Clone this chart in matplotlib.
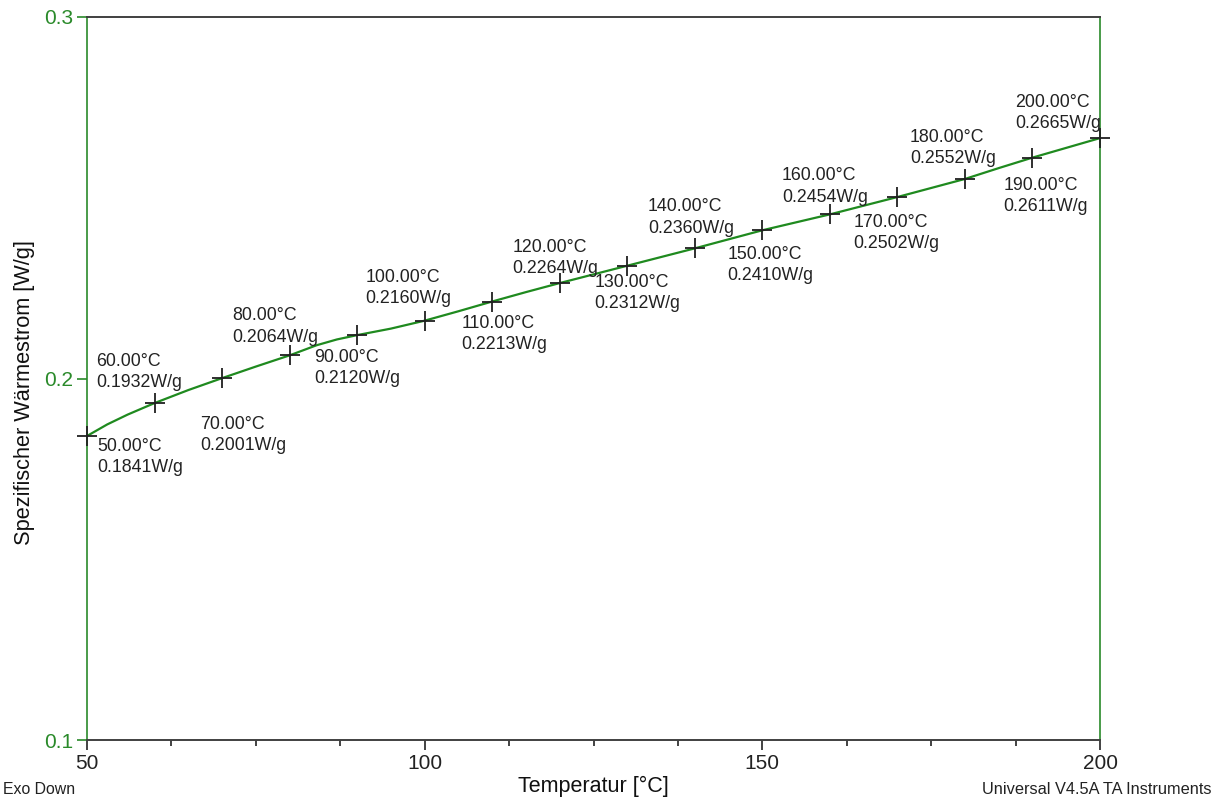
import matplotlib.pyplot as plt
from matplotlib.ticker import MultipleLocator
import numpy as np

# Messpunkte (Temperatur in °C, spez. Waermestrom in W/g)
temperatur = [50, 60, 70, 80, 90, 100, 110, 120, 130, 140, 150, 160, 170, 180, 190, 200]
waermestrom = [0.1841, 0.1932, 0.2001, 0.2064, 0.2120, 0.2160, 0.2213, 0.2264,
               0.2312, 0.2360, 0.2410, 0.2454, 0.2502, 0.2552, 0.2611, 0.2665]

# Kurvenverlauf (inkl. einiger Zwischenwerte)
kurve_t = [50, 53, 56, 60, 65, 70, 75, 80, 84, 87, 90, 95, 100, 105, 110, 115, 120,
           125, 130, 135, 140, 145, 150, 155, 160, 165, 170, 175, 180, 185, 190, 195, 200]
kurve_w = [0.1841, 0.1873, 0.1900, 0.1932, 0.1968, 0.2001, 0.2033, 0.2064, 0.2092,
           0.2108, 0.2120, 0.2138, 0.2160, 0.2186, 0.2213, 0.2239, 0.2264,
           0.2288, 0.2312, 0.2336, 0.2360, 0.2385, 0.2410, 0.2432, 0.2454, 0.2478,
           0.2502, 0.2527, 0.2552, 0.2582, 0.2611, 0.2638, 0.2665]

# Textversatz der Beschriftungen in Pixeln (links oben relativ zum Punkt)
versatz = [(10, 2), (-58, -50), (-22, 38), (-57, -48), (-43, 14), (-59, -52),
           (-31, 13), (-47, -44), (-33, 8), (-47, -50), (-35, 16), (-48, -47),
           (-44, 17), (-55, -50), (-29, 19), (-85, -44)]

gruen = '#2a8a2a'
plt.rcParams['font.family'] = ['Liberation Sans', 'DejaVu Sans']

fig = plt.figure(figsize=(12.2, 8.0), dpi=100)
ax = fig.add_axes([87/1220, 60/800, 1013/1220, 723/800])

ax.plot(kurve_t, kurve_w, color='#1f8a1f', lw=1.6, zorder=2)
ax.plot(temperatur, waermestrom, '+', color='#202020', ms=14, mew=1.3, zorder=3, clip_on=False)

for t, w, (dx, dy) in zip(temperatur, waermestrom, versatz):
    ax.annotate('%.2f°C\n%.4fW/g' % (t, w), (t, w), xytext=(dx, -dy),
                textcoords='offset pixels', ha='left', va='top',
                fontsize=12.8, color='#222222', linespacing=1.32)

ax.set_xlim(50, 200)
ax.set_ylim(0.1, 0.3)
ax.xaxis.set_major_locator(MultipleLocator(50))
ax.xaxis.set_minor_locator(MultipleLocator(12.5))
ax.set_yticks([0.1, 0.2, 0.3])
ax.set_yticklabels(['0.1', '0.2', '0.3'])

ax.tick_params(axis='x', which='major', direction='out', length=7, width=1.2,
               labelsize=15, pad=3, colors='#222222')
ax.tick_params(axis='x', which='minor', direction='out', length=4, width=1.2, colors='#222222')
ax.tick_params(axis='y', which='major', direction='out', length=7, width=1.2,
               labelsize=15, pad=3, colors=gruen, labelcolor=gruen)
ax.tick_params(top=False, right=False)

for s in ['left', 'right']:
    ax.spines[s].set_color(gruen)
    ax.spines[s].set_linewidth(1.2)
for s in ['top', 'bottom']:
    ax.spines[s].set_color('#404040')
    ax.spines[s].set_linewidth(1.4)

ax.set_xlabel('Temperatur [°C]', fontsize=15.5, color='#111111', labelpad=2)
ax.set_ylabel('Spezifischer Wärmestrom [W/g]', fontsize=15.7, color='#111111')
ax.yaxis.set_label_coords(-52/1013, 0.48)

fig.text(3/1220, 1 - 790/800, 'Exo Down', fontsize=11.4, color='#222222', ha='left', va='center')
fig.text(1212/1220, 1 - 790/800, 'Universal V4.5A TA Instruments', fontsize=11.8,
         color='#222222', ha='right', va='center')

fig.savefig('out.png', dpi=100)
